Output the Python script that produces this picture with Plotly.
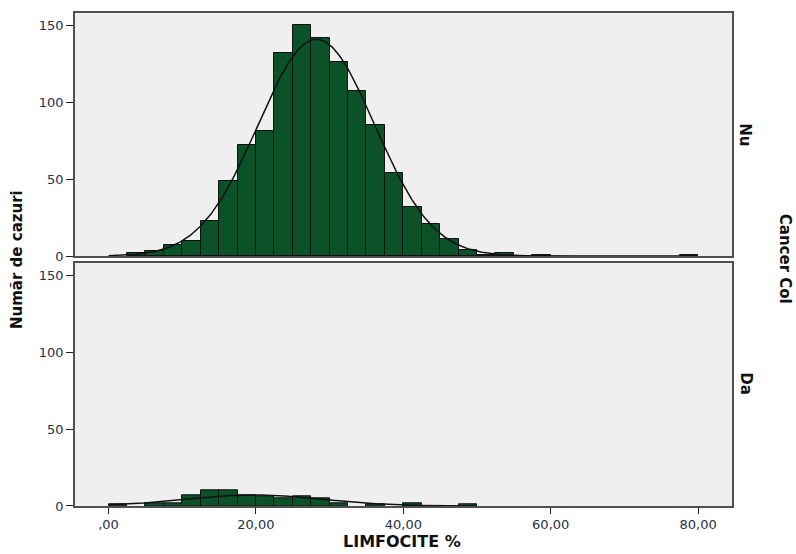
import numpy as np
import plotly.graph_objects as go

# Histogram of lymphocyte percentage, split by colon-cancer status
BIN_WIDTH = 2.5
bin_starts = [i * BIN_WIDTH for i in range(32)]  # 0 .. 77.5

# counts per 2.5-wide bin, group "Nu"
counts_nu = [0, 2, 3, 7, 10, 23, 49, 72, 81, 132, 150, 142, 126, 107, 85, 54,
             32, 21, 11, 4, 1, 2, 0, 1, 0, 0, 0, 0, 0, 0, 0, 1]
# counts per 2.5-wide bin, group "Da"
counts_da = [1, 0, 2, 2, 7, 10, 10, 7, 6, 5, 6, 5, 2, 0, 1, 0,
             2, 0, 0, 1, 0, 0, 0, 0, 0, 0, 0, 0, 0, 0, 0, 0]

# fitted normal curve parameters (mean, standard deviation, drawn range)
normal_nu = dict(mean=28.2, sd=7.9, lo=0.0, hi=80.0)
normal_da = dict(mean=19.7, sd=9.3, lo=0.0, hi=50.0)

x_ticks = [0, 20, 40, 60, 80]
x_tick_labels = [",00", "20,00", "40,00", "60,00", "80,00"]
y_ticks = [0, 50, 100, 150]

group_labels = ["Nu", "Da"]
x_title = "LIMFOCITE %"
y_title = "Număr de cazuri"
facet_title = "Cancer Col"

BAR_COLOR = "#0b5229"
PANEL_BG = "#efefef"
FRAME = "#505050"
TICK_COLOR = "#283048"


def bar_trace(counts, xaxis, yaxis):
    xs = [s + BIN_WIDTH / 2 for s, c in zip(bin_starts, counts) if c > 0]
    ys = [c for c in counts if c > 0]
    return go.Bar(
        x=xs, y=ys, width=BIN_WIDTH,
        marker=dict(color=BAR_COLOR, line=dict(color="#111111", width=1)),
        xaxis=xaxis, yaxis=yaxis, showlegend=False, hoverinfo="x+y",
    )


def curve_trace(counts, params, xaxis, yaxis):
    n = sum(counts)
    xs = np.linspace(params["lo"], params["hi"], 400)
    mu, sd = params["mean"], params["sd"]
    ys = n * BIN_WIDTH / (sd * np.sqrt(2 * np.pi)) * np.exp(-0.5 * ((xs - mu) / sd) ** 2)
    return go.Scatter(
        x=xs, y=ys, mode="lines", line=dict(color="#111111", width=1.5),
        xaxis=xaxis, yaxis=yaxis, showlegend=False, hoverinfo="skip",
    )


fig = go.Figure()
fig.add_trace(bar_trace(counts_nu, "x2", "y2"))
fig.add_trace(curve_trace(counts_nu, normal_nu, "x2", "y2"))
fig.add_trace(bar_trace(counts_da, "x", "y"))
fig.add_trace(curve_trace(counts_da, normal_da, "x", "y"))

x_range = [-4.55, 84.6]
y_range = [0, 158]

axis_common = dict(
    showline=True, mirror=True, linecolor=FRAME, linewidth=1.5,
    showgrid=False, zeroline=False,
)
tick_font = dict(family="DejaVu Sans", size=13, color=TICK_COLOR)

fig.update_layout(
    width=796, height=554,
    margin=dict(l=75, r=64, t=11, b=48),
    paper_bgcolor="white", plot_bgcolor=PANEL_BG,
    bargap=0,
    xaxis=dict(
        domain=[0, 1], anchor="y", range=x_range,
        tickvals=x_ticks, ticktext=x_tick_labels,
        ticks="outside", ticklen=6, tickcolor="#222222",
        tickfont=tick_font, **axis_common,
    ),
    xaxis2=dict(
        domain=[0, 1], anchor="y2", range=x_range, matches="x",
        showticklabels=False, ticks="", **axis_common,
    ),
    yaxis=dict(
        domain=[0, 0.4923], anchor="x", range=y_range,
        tickvals=y_ticks, ticks="outside", ticklen=7, tickcolor="#222222",
        tickfont=tick_font, **axis_common,
    ),
    yaxis2=dict(
        domain=[0.507, 1], anchor="x2", range=y_range,
        tickvals=y_ticks, ticks="outside", ticklen=7, tickcolor="#222222",
        tickfont=tick_font, **axis_common,
    ),
)


def label_font(size):
    return dict(family="DejaVu Sans", size=size, color="#111111")


annotations = [
    dict(text=f"<b>{x_title}</b>", x=0.4977, y=-0.072, xref="paper", yref="paper",
         xanchor="center", yanchor="middle", showarrow=False, borderpad=0,
         font=label_font(16)),
    dict(text=f"<b>{y_title}</b>", x=-0.0883, y=0.501, xref="paper", yref="paper",
         xanchor="center", yanchor="middle", textangle=-90, showarrow=False,
         font=label_font(15)),
    dict(text=f"<b>{group_labels[0]}</b>", x=1.02, y=0.754, xref="paper", yref="paper",
         xanchor="center", yanchor="middle", textangle=90, showarrow=False,
         font=label_font(15)),
    dict(text=f"<b>{group_labels[1]}</b>", x=1.02, y=0.2485, xref="paper", yref="paper",
         xanchor="center", yanchor="middle", textangle=90, showarrow=False,
         font=label_font(15)),
    dict(text=f"<b>{facet_title}</b>", x=1.081, y=0.501, xref="paper", yref="paper",
         xanchor="center", yanchor="middle", textangle=90, showarrow=False,
         font=label_font(15)),
]
fig.update_layout(annotations=annotations)

fig.write_html("out.html")
